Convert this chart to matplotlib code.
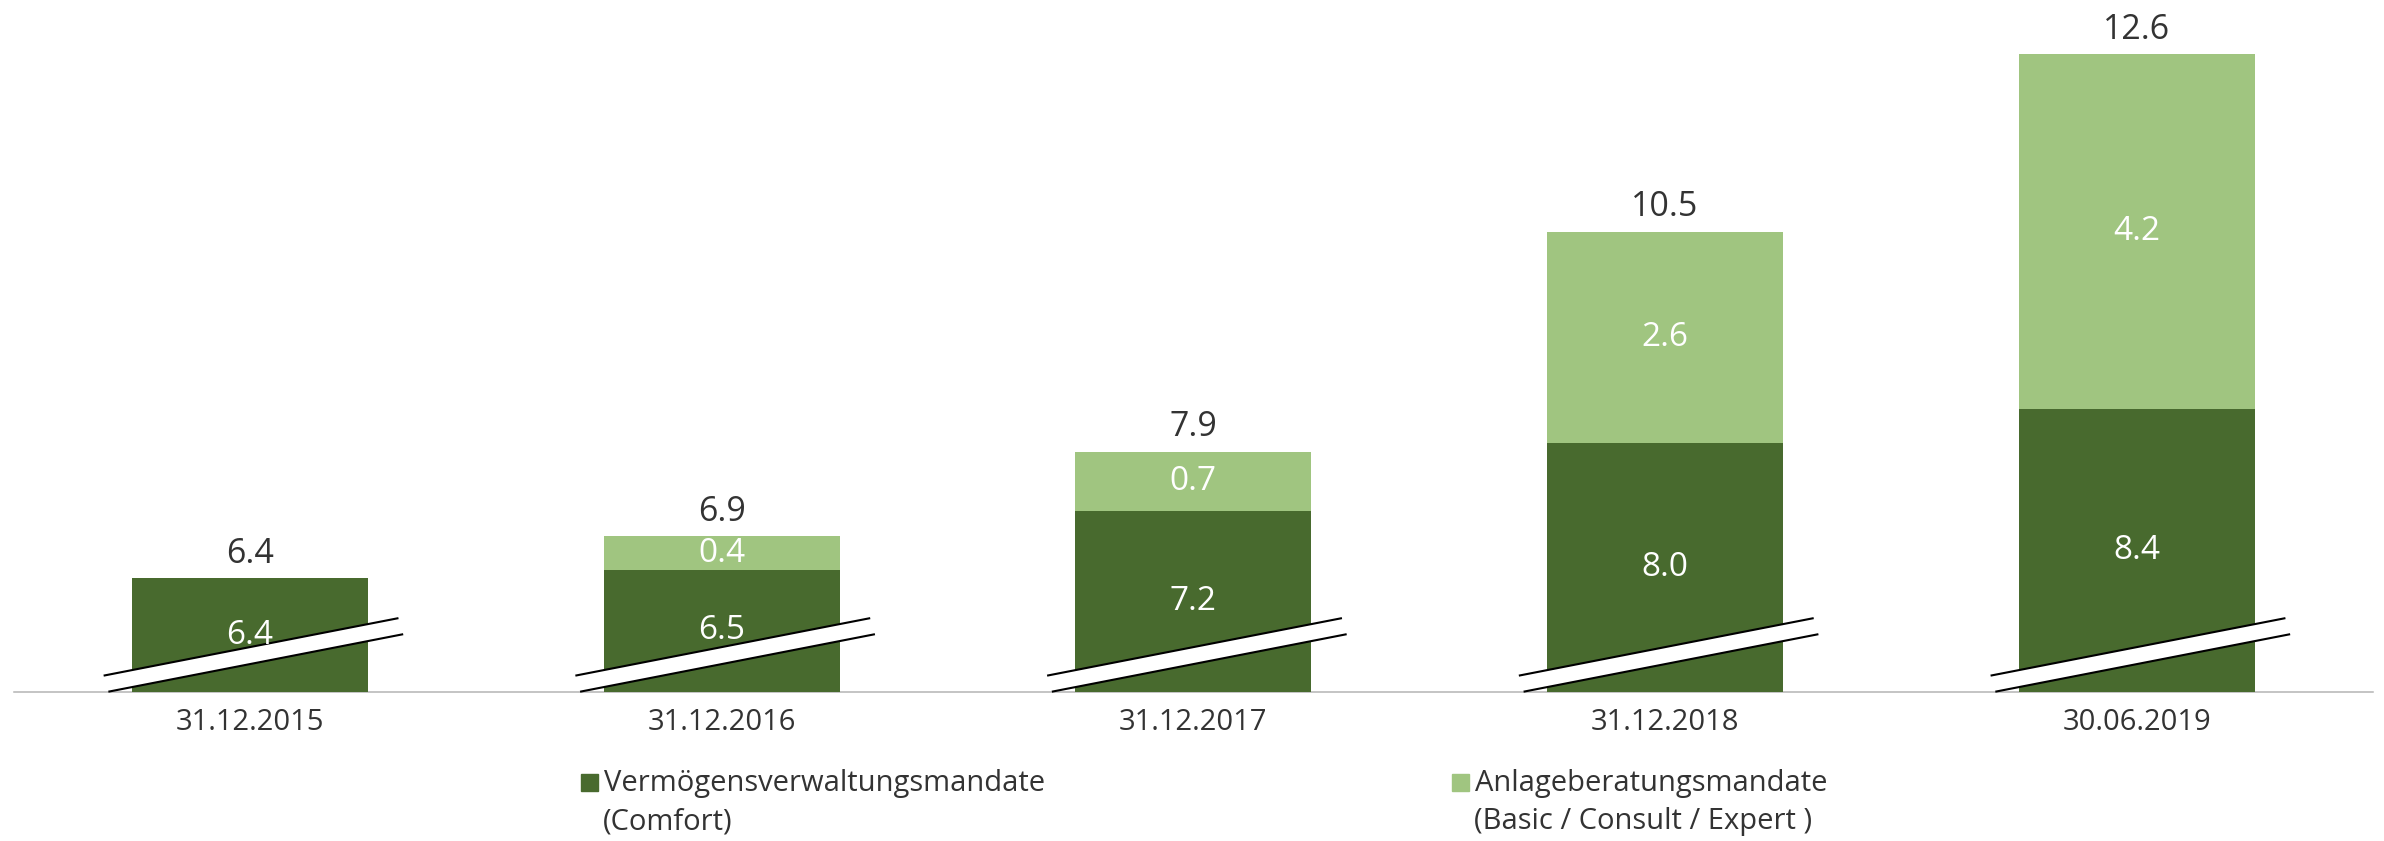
import matplotlib.pyplot as plt
from matplotlib.patches import Polygon, Rectangle
import numpy as np

# data
dates = ["31.12.2015", "31.12.2016", "31.12.2017", "31.12.2018", "30.06.2019"]
comfort = [6.4, 6.5, 7.2, 8.0, 8.4]
advisory = [0.0, 0.4, 0.7, 2.6, 4.2]
totals = [6.4, 6.9, 7.9, 10.5, 12.6]
legend_labels = [
    ("Vermögensverwaltungsmandate", "(Comfort)"),
    ("Anlageberatungsmandate", "(Basic / Consult / Expert )"),
]

DARK = "#486a2e"
LIGHT = "#a0c580"
TEXT = "#333333"
W, H = 2384, 841

plt.rcParams["font.family"] = ["Open Sans", "DejaVu Sans"]

fig = plt.figure(figsize=(W / 100, H / 100), dpi=100)
ax = fig.add_axes([14 / W, (H - 691.7) / H, (2372.7 - 14) / W, 691.7 / H])

y0, y1 = 5.06, 13.24
x = np.arange(len(dates))
comfort = np.array(comfort)
totals = np.array(totals)
light_h = totals - comfort

ax.bar(x, comfort, width=0.5, color=DARK, zorder=2)
ax.bar(x, light_h, bottom=comfort, width=0.5, color=LIGHT, zorder=2)

ax.set_xlim(-0.5, 4.5)
ax.set_ylim(y0, y1)

# axis break marks
for xi in x:
    upper = [(xi - 0.31, y0 + 0.19), (xi + 0.315, y0 + 0.87)]
    lower = [(xi + 0.325, y0 + 0.68), (xi - 0.30, y0 + 0.0)]
    ax.add_patch(Polygon(upper + lower, closed=True, facecolor="white",
                         edgecolor="none", zorder=3, clip_on=False))
    ax.plot(*zip(*upper), color="black", lw=1.5, zorder=4, clip_on=False,
            solid_capstyle="butt")
    ax.plot(*zip(*lower), color="black", lw=1.5, zorder=4, clip_on=False,
            solid_capstyle="butt")

# labels
for xi, c, a, t in zip(x, comfort, advisory, totals):
    ax.annotate(f"{t:.1f}", (xi, t), xytext=(0, 11), textcoords="offset points",
                ha="center", va="baseline", fontsize=24.5, color=TEXT, zorder=5)
    ax.text(xi, (y0 + c) / 2, f"{c:.1f}", ha="center", va="center",
            fontsize=24, color="white", zorder=5)
    if a > 0:
        ax.text(xi, (c + t) / 2, f"{a:.1f}", ha="center", va="center",
                fontsize=24, color="white", zorder=5)

for s in ["top", "right", "left"]:
    ax.spines[s].set_visible(False)
ax.spines["bottom"].set_color("#b4b4b4")
ax.spines["bottom"].set_linewidth(1.1)
ax.spines["bottom"].set_zorder(1)
ax.set_yticks([])
ax.set_xticks(x)
ax.set_xticklabels(dates, fontsize=21, color=TEXT)
ax.tick_params(axis="x", length=0, pad=12)

# legend
for (l1, l2), col, sx in zip(legend_labels, [DARK, LIGHT], [580.7, 1451.7]):
    fig.add_artist(Rectangle((sx / W, (H - 791) / H), 17.5 / W, 17.5 / H,
                             transform=fig.transFigure, color=col))
    fig.text((sx + 23) / W, (H - 791) / H, l1, fontsize=21, color=TEXT,
             va="baseline", ha="left")
    fig.text((sx + 22) / W, (H - 829) / H, l2, fontsize=21, color=TEXT,
             va="baseline", ha="left")

fig.savefig("out.png", dpi=100)
